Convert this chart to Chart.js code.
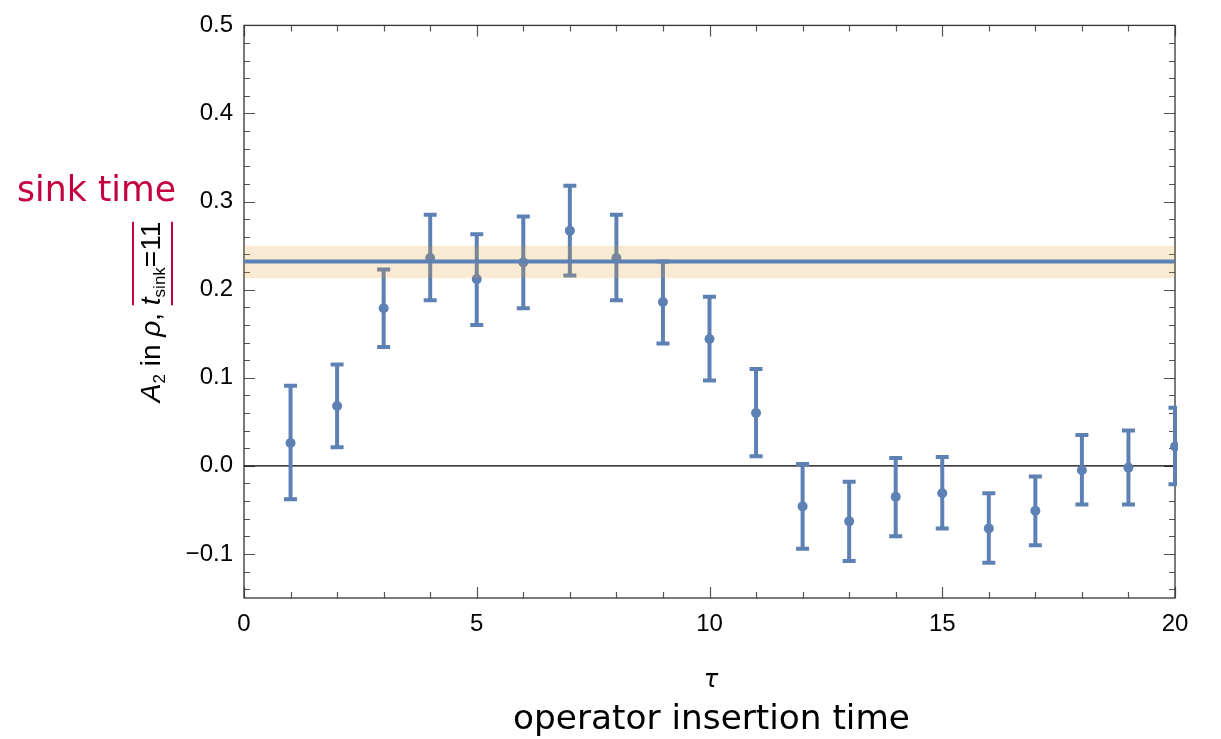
<!DOCTYPE html>
<html>
<head>
<meta charset="utf-8">
<script src="https://cdn.jsdelivr.net/npm/chart.js@4.4.1/dist/chart.umd.min.js"></script>
<style>
html,body{margin:0;padding:0;background:#fff;}
canvas{display:block;}
</style>
</head>
<body>
<canvas id="c" width="1221" height="739"></canvas>
<script>
// ---- data ----
const tau = [1,2,3,4,5,6,7,8,9,10,11,12,13,14,15,16,17,18,19,20];
const a2 = [0.026,0.068,0.179,0.236,0.212,0.231,0.267,0.236,0.186,0.144,0.060,-0.046,-0.063,-0.035,-0.031,-0.071,-0.051,-0.005,-0.002,0.022];
const errHigh = [0.091,0.115,0.223,0.285,0.263,0.283,0.318,0.285,0.232,0.192,0.110,0.002,-0.018,0.009,0.010,-0.031,-0.012,0.035,0.040,0.066];
const errLow = [-0.038,0.021,0.135,0.188,0.160,0.179,0.216,0.188,0.139,0.097,0.011,-0.094,-0.108,-0.080,-0.071,-0.110,-0.090,-0.044,-0.044,-0.021];
const fitRange = [0, 20];
const fitValue = 0.232;
const bandLow = 0.213;
const bandHigh = 0.250;
const xTickLabels = [0, 5, 10, 15, 20];

const BLUE = '#5e81b5';
const CRIMSON = '#c5003e';

const pts = tau.map((t, i) => ({x: t, y: a2[i]}));
const line = v => fitRange.map(x => ({x, y: v}));

const errorBars = {
  id: 'errorBars',
  beforeDatasetDraw(chart, args) {
    if (args.index !== 3) return;
    const {ctx, chartArea: ca} = chart;
    const xs = chart.scales.x, ys = chart.scales.y;
    ctx.save();
    ctx.beginPath();
    ctx.rect(ca.left - 2, ca.top - 2, ca.right - ca.left + 4, ca.bottom - ca.top + 4);
    ctx.clip();
    ctx.strokeStyle = BLUE;
    ctx.lineWidth = 4;
    ctx.lineCap = 'butt';
    tau.forEach((t, i) => {
      const px = xs.getPixelForValue(t);
      const y1 = ys.getPixelForValue(errHigh[i]);
      const y2 = ys.getPixelForValue(errLow[i]);
      ctx.beginPath();
      ctx.moveTo(px, y1); ctx.lineTo(px, y2);
      ctx.moveTo(px - 6.5, y1); ctx.lineTo(px + 6.5, y1);
      ctx.moveTo(px - 6.5, y2); ctx.lineTo(px + 6.5, y2);
      ctx.stroke();
    });
    ctx.restore();
  }
};

const frame = {
  id: 'frame',
  beforeDatasetsDraw(chart) {
    const {ctx, chartArea: ca} = chart;
    const xs = chart.scales.x, ys = chart.scales.y;
    ctx.save();
    ctx.strokeStyle = '#555';
    ctx.lineWidth = 1.2;
    for (let k = -7; k <= 25; k++) {
      const v = k * 0.02;
      if (v < -0.15 - 1e-9 || v > 0.5 + 1e-9) continue;
      const py = Math.round(ys.getPixelForValue(v)) + 0.5;
      const len = (k % 5 === 0) ? 11 : 6;
      ctx.beginPath();
      ctx.moveTo(ca.left, py); ctx.lineTo(ca.left + len, py);
      ctx.moveTo(ca.right, py); ctx.lineTo(ca.right - len, py);
      ctx.stroke();
    }
    for (let k = 0; k <= 20; k++) {
      const px = Math.round(xs.getPixelForValue(k)) + 0.5;
      const len = (k % 5 === 0) ? 11 : 6;
      ctx.beginPath();
      ctx.moveTo(px, ca.bottom); ctx.lineTo(px, ca.bottom - len);
      ctx.moveTo(px, ca.top); ctx.lineTo(px, ca.top + len);
      ctx.stroke();
    }
    ctx.strokeStyle = '#333';
    ctx.lineWidth = 1.3;
    ctx.strokeRect(ca.left, ca.top, ca.right - ca.left, ca.bottom - ca.top);
    ctx.restore();
  }
};

function fitFont(ctx, text, family, width, style) {
  ctx.font = (style || '') + ' 100px ' + family;
  const w = ctx.measureText(text).width;
  return 100 * width / w;
}

const labels = {
  id: 'labels',
  afterDraw(chart) {
    const {ctx} = chart;
    ctx.save();
    const fam = '"DejaVu Sans", sans-serif';
    let s = fitFont(ctx, 'sink time', fam, 159);
    ctx.font = s + 'px ' + fam;
    ctx.fillStyle = CRIMSON;
    ctx.textAlign = 'center';
    ctx.textBaseline = 'alphabetic';
    ctx.fillText('sink time', 96.5, 201);
    s = fitFont(ctx, 'operator insertion time', fam, 397);
    ctx.font = s + 'px ' + fam;
    ctx.fillStyle = '#000';
    ctx.fillText('operator insertion time', 711.5, 729);
    ctx.font = 'italic 24px "DejaVu Sans", sans-serif';
    ctx.fillText('τ', 711, 687);

    const f = 28, fs = 17;
    const segs = [
      {t: 'A', st: 'italic', sz: f, dy: 0},
      {t: '2', st: '', sz: fs, dy: 5},
      {t: ' in ', st: '', sz: f, dy: 0},
      {t: 'ρ', st: 'italic', sz: f, dy: 0},
      {t: ', ', st: '', sz: f, dy: 0},
      {t: 't', st: 'italic', sz: f, dy: 0, mark: 'start'},
      {t: 'sink', st: '', sz: fs, dy: 5},
      {t: '=11', st: '', sz: f, dy: 0, mark: 'end'}
    ];
    const ff = '"Liberation Sans", Arial, sans-serif';
    let total = 0;
    segs.forEach(g => { ctx.font = g.st + ' ' + g.sz + 'px ' + ff; g.w = ctx.measureText(g.t).width; total += g.w; });
    const yc = 312;
    ctx.translate(160, yc + total / 2);
    ctx.rotate(-Math.PI / 2);
    ctx.textAlign = 'left';
    ctx.fillStyle = '#000';
    let x = 0, mStart = 0, mEnd = 0;
    segs.forEach(g => {
      ctx.font = g.st + ' ' + g.sz + 'px ' + ff;
      if (g.mark === 'start') mStart = x;
      ctx.fillText(g.t, x, g.dy);
      x += g.w;
      if (g.mark === 'end') mEnd = x;
    });
    ctx.strokeStyle = CRIMSON;
    ctx.lineWidth = 2;
    ctx.beginPath();
    ctx.moveTo(mStart, -27); ctx.lineTo(mEnd, -27);
    ctx.moveTo(mStart, 12); ctx.lineTo(mEnd, 12);
    ctx.stroke();
    ctx.restore();
  }
};

new Chart(document.getElementById('c'), {
  type: 'line',
  data: {
    datasets: [
      {label: 'fit', data: line(fitValue), borderColor: BLUE, borderWidth: 4, pointRadius: 0, fill: false, order: 0},
      {label: 'bandHigh', data: line(bandHigh), borderWidth: 0, borderColor: 'rgba(0,0,0,0)', pointRadius: 0, fill: '+1', backgroundColor: 'rgba(225,156,36,0.2)', order: 1},
      {label: 'bandLow', data: line(bandLow), borderWidth: 0, borderColor: 'rgba(0,0,0,0)', pointRadius: 0, fill: false, order: 2},
      {label: 'A2', data: pts, showLine: false, pointRadius: 5, pointBackgroundColor: BLUE, pointBorderWidth: 0, borderColor: BLUE, clip: 3, order: 3},
      {label: 'zero', data: line(0), borderColor: '#000', borderWidth: 1.4, pointRadius: 0, fill: false, order: 4}
    ]
  },
  options: {
    responsive: false,
    animation: false,
    devicePixelRatio: 1,
    layout: {padding: {top: 21, right: 46, left: 0, bottom: 0}},
    plugins: {legend: {display: false}, tooltip: {enabled: false}, title: {display: false}},
    scales: {
      x: {
        type: 'linear', min: 0, max: 20,
        grid: {display: false, drawTicks: false}, border: {display: false},
        afterBuildTicks: sc => { sc.ticks = xTickLabels.map(v => ({value: v})); },
        ticks: {color: '#000', font: {family: '"Liberation Sans", Arial, sans-serif', size: 24}, padding: 12, maxRotation: 0,
          callback: v => String(v)},
        afterFit: sc => { sc.height = 141; }
      },
      y: {
        type: 'linear', min: -0.15, max: 0.5,
        grid: {display: false, drawTicks: false}, border: {display: false},
        ticks: {stepSize: 0.1, includeBounds: false, color: '#000', font: {family: '"Liberation Sans", Arial, sans-serif', size: 24}, padding: 11,
          callback: v => { const r = Math.round(v * 10) / 10; return (r < 0 ? '\u2212' : '') + Math.abs(r).toFixed(1); }},
        afterFit: sc => { sc.width = 244; }
      }
    }
  },
  plugins: [frame, errorBars, labels]
});
</script>
</body>
</html>
